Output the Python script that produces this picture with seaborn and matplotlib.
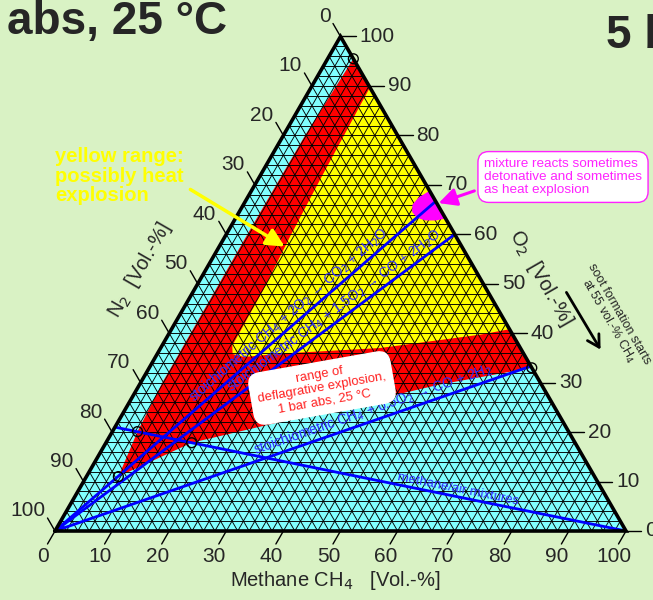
import numpy as np
import pandas as pd
import matplotlib
matplotlib.use("Agg")
import matplotlib.pyplot as plt
import seaborn as sns
from matplotlib.collections import LineCollection

# ---------------- data (ternary: CH4 %, O2 %) ----------------
tick_values = [0, 10, 20, 30, 40, 50, 60, 70, 80, 90, 100]
grid_values = list(range(2, 100, 2))

# flammable (deflagrative) range envelope
flam_ch4 = [4.5, 67.0, 52.5, 15.0, 5.6, 4.4, 3.8, 3.7, 3.8, 4.5]
flam_o2 = [95.5, 33.0, 29.6, 17.85, 11.0, 20.1, 30.0, 60.0, 80.0, 95.5]

# yellow range: possibly heat explosion
yel_ch4 = [10.3, 59.2, 54.6, 38.4, 22.0, 15.5, 13.2, 12.3, 12.2, 12.1, 11.4, 10.9, 10.3]
yel_o2 = [89.7, 40.8, 39.7, 37.0, 35.9, 35.2, 35.8, 37.5, 42.7, 48.8, 59.6, 71.1, 89.7]

# magenta: sometimes detonative
mag_ch4 = [31.2, 30.0, 29.6, 30.3, 31.8, 33.5, 35.3, 36.8]
mag_o2 = [68.8, 67.5, 66.0, 64.5, 63.3, 62.8, 62.8, 63.2]

# measured limit points (open circles)
pts_ch4 = [4.5, 5.6, 4.4, 15.0, 67.0]
pts_o2 = [95.5, 11.0, 20.1, 17.85, 33.0]

# reference lines: (CH4 start, O2 start) -> (CH4 end, O2 end)
line_names = ["stoich_full", "stoich_1.5", "stoich_0.5", "air"]
line_ch4_start = [0, 0, 0, 0]
line_o2_start = [0, 0, 0, 21]
line_ch4_end = [100 / 3, 40, 200 / 3, 100]
line_o2_end = [200 / 3, 60, 100 / 3, 0]
line_labels = ["stoichiometric CH$_4$ + 2O$_2$ \u2192 CO$_2$ + 2H$_2$O",
               "stoichiometric CH$_4$ + 1.5O$_2$ \u2192 CO + 2H$_2$O",
               "stoichiometric CH$_4$ + 0.5O$_2$ \u2192 CO + 2H$_2$",
               "methane/air mixtures"]
label_at_ch4 = [21.0, 28.5, 45.0, 67.0]

S3 = np.sqrt(3) / 2


def tx(c, o):
    return np.asarray(c, float) + np.asarray(o, float) / 2


def ty(o):
    return np.asarray(o, float) * S3


PX = 5.71  # pixels per data unit

sns.set_theme(style="white")
plt.rcParams["font.family"] = ["Liberation Sans", "DejaVu Sans"]

BG = "#d9f2c4"
fig = plt.figure(figsize=(6.53, 6.0), dpi=100, facecolor=BG)
ax = fig.add_axes([0, 0, 1, 1])
ax.set_facecolor(BG)
ax.set_xlim(-55 / PX, (653 - 55) / PX)
ax.set_ylim(-(600 - 531) / PX, 531 / PX)
ax.set_axis_off()

# regions
tri_c = [0, 100, 0]
tri_o = [0, 0, 100]
ax.fill(tx(tri_c, tri_o), ty(tri_o), color="#80ffff", zorder=1, lw=0)
ax.fill(tx(flam_ch4, flam_o2), ty(flam_o2), color="#ff0000", zorder=2, lw=0)
ax.fill(tx(yel_ch4, yel_o2), ty(yel_o2), color="#ffff00", zorder=3, lw=0)

# triangular grid
segs = []
for k in grid_values:
    segs.append([(tx(0, k), ty(k)), (tx(100 - k, k), ty(k))])
    segs.append([(tx(k, 0), ty(0)), (tx(k, 100 - k), ty(100 - k))])
    segs.append([(tx(100 - k, 0), ty(0)), (tx(0, 100 - k), ty(100 - k))])
ax.add_collection(LineCollection(segs, colors="black", linewidths=0.65, zorder=4))

ax.fill(tx(mag_ch4, mag_o2), ty(mag_o2), color="#ff00ff", zorder=5, lw=0)

# blue reference lines via seaborn
rows = []
for i, name in enumerate(line_names):
    rows.append(dict(line=name, x=tx(line_ch4_start[i], line_o2_start[i]), y=ty(line_o2_start[i])))
    rows.append(dict(line=name, x=tx(line_ch4_end[i], line_o2_end[i]), y=ty(line_o2_end[i])))
df = pd.DataFrame(rows)
sns.lineplot(data=df, x="x", y="y", units="line", estimator=None, sort=False,
             color="#0000ff", lw=2, ax=ax, legend=False, zorder=6)

for i, lab in enumerate(line_labels):
    c0, o0 = line_ch4_start[i], line_o2_start[i]
    c1, o1 = line_ch4_end[i], line_o2_end[i]
    x0, y0 = tx(c0, o0), ty(o0)
    x1, y1 = tx(c1, o1), ty(o1)
    ang = np.degrees(np.arctan2(y1 - y0, x1 - x0))
    t = (label_at_ch4[i] - c0) / (c1 - c0)
    lc = c0 + t * (c1 - c0)
    lo = o0 + t * (o1 - o0)
    ax.text(tx(lc, lo), ty(lo) + 0.25, lab, rotation=ang, rotation_mode="anchor",
            ha="center", va="bottom", color="#3030ff",
            fontsize=10 if i < 3 else 9.5, zorder=9)

# markers
ax.scatter(tx(pts_ch4, pts_o2), ty(pts_o2), s=50, facecolors="none",
           edgecolors="black", linewidths=1.0, zorder=7)

# border
ax.plot(tx(tri_c + [0], tri_o + [0]), ty(tri_o + [0]), color="black", lw=2.6,
        zorder=8, solid_joinstyle="miter")

# ticks and labels
L = 15 / PX
for v in tick_values:
    # bottom: CH4
    ex, ey = tx(v, 0), ty(0)
    ax.plot([ex, ex - 0.5 * L], [ey, ey - S3 * L], color="black", lw=1, zorder=8)
    ax.text(ex - 12 / PX, ey - 26 / PX, str(v), ha="center", va="center", fontsize=15)
    # right: O2
    ex, ey = tx(100 - v, v), ty(v)
    ax.plot([ex, ex + L], [ey, ey], color="black", lw=1, zorder=8)
    ax.text(ex + 19 / PX, ey, str(v), ha="left", va="center", fontsize=15)
    # left: N2
    ex, ey = tx(0, 100 - v), ty(100 - v)
    ax.plot([ex, ex - 0.5 * L], [ey, ey + S3 * L], color="black", lw=1, zorder=8)
    ax.text(ex - 10 / PX, ey + 20 / PX, str(v), ha="right", va="center", fontsize=15)


def px(x, y):
    return (x - 55) / PX, (531 - y) / PX


# axis titles
ax.text(*px(335, 580), "Methane CH$_4$   [Vol.-%]", ha="center", va="center", fontsize=14.5)
ax.text(*px(140, 270), "N$_2$  [Vol.-%]", ha="center", va="center", fontsize=14.5, rotation=60)
ax.text(*px(541, 278), "O$_2$  [Vol.-%]", ha="center", va="center", fontsize=14.5, rotation=-60)

# soot note
ax.text(*px(613, 318), "soot formation starts\nat 55 vol.-% CH$_4$", ha="center", va="center",
        fontsize=9, rotation=-60, linespacing=1.0)
ax.annotate("", xy=px(602, 352), xytext=px(565, 290),
            arrowprops=dict(arrowstyle="->,head_length=0.7,head_width=0.4", lw=2, color="black"))

# titles
ax.text(*px(7, 34), "abs, 25 °C", ha="left", va="baseline", fontsize=33, fontweight="bold")
ax.text(*px(606, 48), "5 bar", ha="left", va="baseline", fontsize=33, fontweight="bold")

# yellow note
ax.text(*px(55, 176), "yellow range:\npossibly heat\nexplosion", ha="left", va="center",
        fontsize=14.5, fontweight="bold", color="#ffff00", linespacing=1.05, zorder=9)
ax.annotate("", xy=px(287, 248), xytext=px(188, 188),
            arrowprops=dict(arrowstyle="-|>,head_length=0.9,head_width=0.45", lw=2.5,
                            color="#ffff00"), zorder=9)

# magenta note
ax.text(*px(484, 177), "mixture reacts sometimes\ndetonative and sometimes\nas heat explosion",
        ha="left", va="center", fontsize=9.7, color="#ff22ff", linespacing=1.15, zorder=9,
        bbox=dict(boxstyle="round,pad=0.45,rounding_size=0.8", fc="white", ec="#ff22ff", lw=1))
ax.annotate("", xy=px(436, 204), xytext=px(477, 190),
            arrowprops=dict(arrowstyle="-|>,head_length=0.9,head_width=0.45", lw=2.2,
                            color="#ff00ff"), zorder=9)

# red note
ax.text(*px(322, 388), "range of\ndeflagrative explosion,\n1 bar abs, 25 °C", ha="center",
        va="center", fontsize=9.4, color="#ff2020", rotation=10, linespacing=1.15, zorder=9,
        bbox=dict(boxstyle="round,pad=0.5,rounding_size=0.9", fc="white", ec="white", lw=1))

fig.savefig("out.png", dpi=100, facecolor=BG)
